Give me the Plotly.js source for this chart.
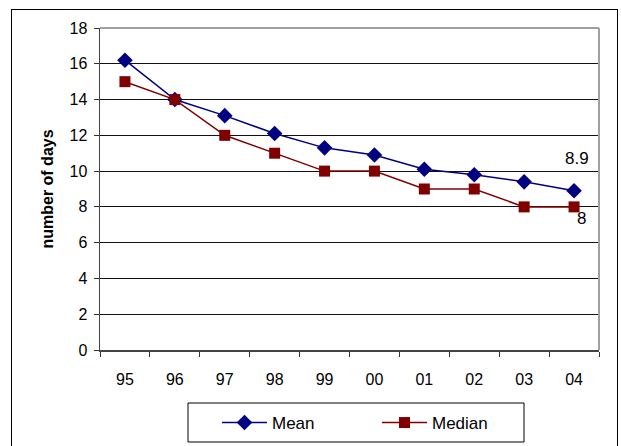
<!DOCTYPE html>
<html>
<head>
<meta charset="utf-8">
<script src="https://cdn.plot.ly/plotly-3.0.1.min.js"></script>
<style>
  html, body { margin: 0; padding: 0; background: #fff; }
  #wrap { position: relative; width: 621px; height: 446px; overflow: hidden; }
  #chart { width: 621px; height: 446px; }
  #frame { position: absolute; left: 11px; top: 9px; width: 605px; height: 460px;
           border: 1px solid #000; pointer-events: none; }
</style>
</head>
<body>
<div id="wrap">
  <div id="chart"></div>
  <div id="frame"></div>
</div>
<script>
// Years (two-digit labels) and the number of days per year
const years = ['95', '96', '97', '98', '99', '00', '01', '02', '03', '04'];
const meanDays = [16.2, 14.0, 13.1, 12.1, 11.3, 10.9, 10.1, 9.8, 9.4, 8.9];
const medianDays = [15, 14, 12, 11, 10, 10, 9, 9, 8, 8];
const yTicks = [0, 2, 4, 6, 8, 10, 12, 14, 16, 18];

const font = 'Arial, "Liberation Sans", sans-serif';
const last = years.length - 1;

// plot area spans 100..599 px horizontally and 28..350 px vertically
const plotL = 100, plotW = 499, plotT = 28, plotH = 322;
const px = v => (v - plotL) / plotW;
const py = v => 1 - (v - plotT) / plotH;

const traces = [
  {
    x: years, y: meanDays, name: 'Mean', type: 'scatter', mode: 'lines+markers',
    line: { color: '#000080', width: 1.5 },
    marker: { symbol: 'diamond', size: 12, color: '#000080' }
  },
  {
    x: years, y: medianDays, name: 'Median', type: 'scatter', mode: 'lines+markers',
    line: { color: '#800000', width: 1.5 },
    marker: { symbol: 'square', size: 11, color: '#800000' }
  }
];

const layout = {
  width: 621, height: 446,
  margin: { l: 100, r: 22, t: 28, b: 96, autoexpand: false },
  paper_bgcolor: '#fff', plot_bgcolor: '#fff',
  font: { family: font, size: 16, color: '#000' },
  showlegend: true,
  legend: {
    orientation: 'h', x: px(217), xanchor: 'left', y: py(405), yanchor: 'top',
    borderwidth: 0, bgcolor: 'rgba(0,0,0,0)',
    font: { family: font, size: 17, color: '#000' },
    itemwidth: 45, entrywidth: 100, traceorder: 'normal'
  },
  xaxis: {
    type: 'category', categoryorder: 'array', categoryarray: years,
    range: [-0.5, years.length - 0.5],
    tickson: 'boundaries', ticks: 'outside', ticklen: 5, tickcolor: '#333',
    showline: true, linecolor: '#444', linewidth: 1.5,
    showgrid: false, zeroline: false, mirror: false,
    tickfont: { family: font, size: 16, color: '#000' },
    ticklabelstandoff: 14, fixedrange: true
  },
  yaxis: {
    range: [0, 18], tickvals: yTicks, ticks: 'outside', ticklen: 5, tickcolor: '#333',
    showline: true, linecolor: '#444', linewidth: 1.5,
    showgrid: true, gridcolor: '#111', gridwidth: 1, zeroline: false,
    tickfont: { family: font, size: 16, color: '#000' },
    ticklabelstandoff: 3,
    title: { text: 'number of days', font: { family: font, size: 16, color: '#000', weight: 'bold' }, standoff: 12 },
    fixedrange: true
  },
  shapes: [
    // grey frame on the top and right edges of the plot area
    { type: 'line', xref: 'paper', yref: 'paper', x0: 0, x1: 1, y0: 1, y1: 1, line: { color: '#a0a0a0', width: 2 } },
    { type: 'line', xref: 'paper', yref: 'paper', x0: 1, x1: 1, y0: 0, y1: 1, line: { color: '#a0a0a0', width: 2 } },
    // legend box
    { type: 'rect', xref: 'paper', yref: 'paper', x0: px(188), x1: px(524), y0: py(403), y1: py(442),
      line: { color: '#000', width: 1 }, fillcolor: 'rgba(0,0,0,0)' }
  ],
  annotations: [
    { x: last, y: meanDays[last], text: String(meanDays[last]), showarrow: false,
      xshift: 3, yshift: 32, font: { family: font, size: 17, color: '#000' } },
    { x: last, y: medianDays[last], text: String(medianDays[last]), showarrow: false,
      xshift: 7, yshift: -12, font: { family: font, size: 17, color: '#000' } }
  ]
};

Plotly.newPlot('chart', traces, layout, { displayModeBar: false, staticPlot: true });
</script>
</body>
</html>
